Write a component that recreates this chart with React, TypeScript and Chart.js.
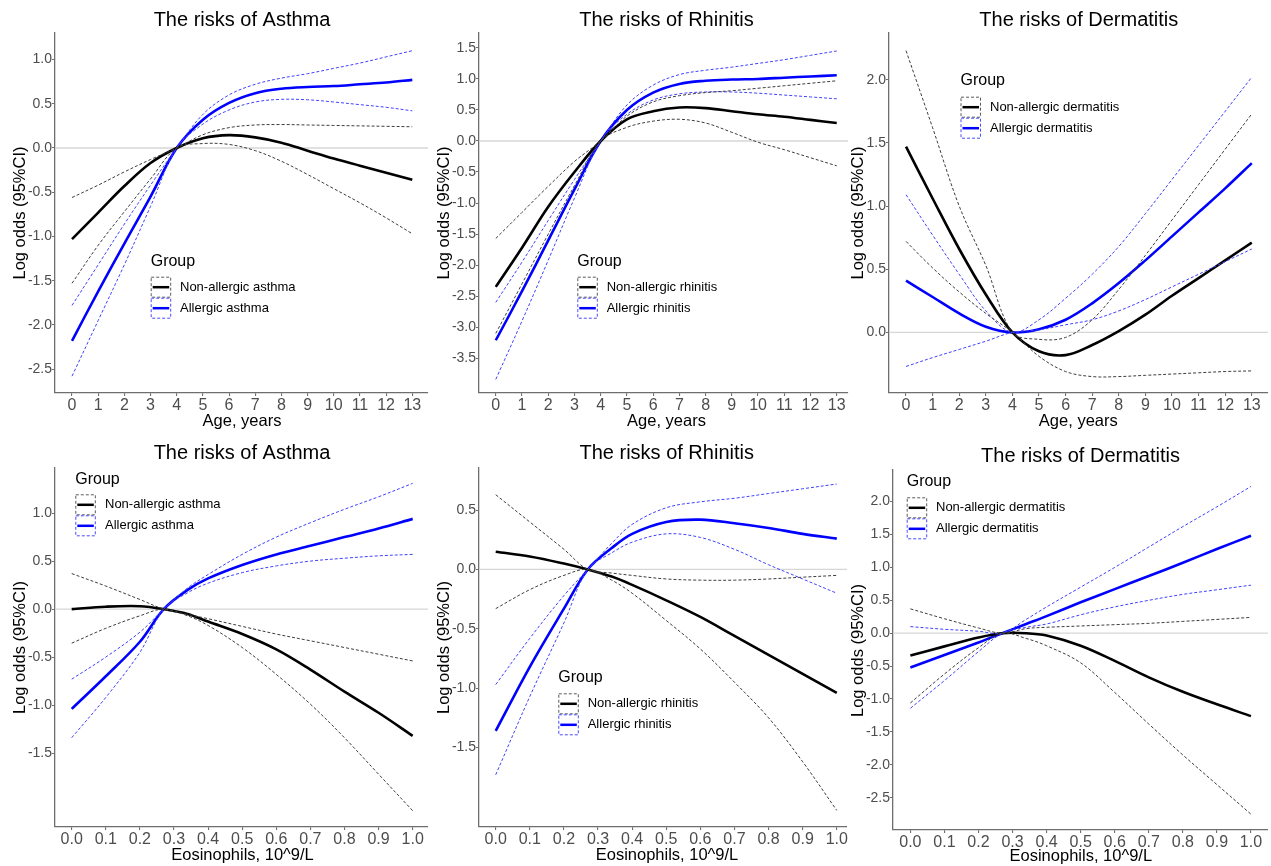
import React, { useEffect, useRef } from "react";
import { Chart, registerables } from "chart.js";

Chart.register(...registerables);

// ---------- data ----------
const ageX = [0, 1, 2, 3, 4, 5, 6, 7, 8, 9, 10, 11, 12, 13];
const eosX = [0, 0.1, 0.2, 0.27, 0.34, 0.4, 0.5, 0.6, 0.7, 0.8, 0.9, 1.0];

const ageTicks = [0, 1, 2, 3, 4, 5, 6, 7, 8, 9, 10, 11, 12, 13];
const eosTicks = [0, 0.1, 0.2, 0.3, 0.4, 0.5, 0.6, 0.7, 0.8, 0.9, 1.0];

const yTicksAsthmaAge = [-2.5, -2, -1.5, -1, -0.5, 0, 0.5, 1];
const yTicksRhinitisAge = [-3.5, -3, -2.5, -2, -1.5, -1, -0.5, 0, 0.5, 1, 1.5];
const yTicksDermAge = [0, 0.5, 1, 1.5, 2];
const yTicksAsthmaEos = [-1.5, -1, -0.5, 0, 0.5, 1];
const yTicksRhinitisEos = [-1.5, -1, -0.5, 0, 0.5];
const yTicksDermEos = [-2.5, -2, -1.5, -1, -0.5, 0, 0.5, 1, 1.5, 2];

// Asthma vs age
const asthmaAgeNonEst = [-1.03, -0.73, -0.43, -0.17, 0, 0.11, 0.145, 0.12, 0.06, -0.03, -0.12, -0.2, -0.28, -0.36];
const asthmaAgeNonLo = [-1.53, -1.1, -0.72, -0.35, 0, 0.05, 0.04, -0.03, -0.15, -0.3, -0.46, -0.62, -0.79, -0.97];
const asthmaAgeNonHi = [-0.56, -0.42, -0.27, -0.13, 0, 0.15, 0.23, 0.26, 0.265, 0.26, 0.255, 0.25, 0.245, 0.24];
const asthmaAgeAllEst = [-2.18, -1.62, -1.08, -0.55, 0, 0.32, 0.51, 0.62, 0.67, 0.69, 0.7, 0.72, 0.74, 0.77];
const asthmaAgeAllLo = [-2.58, -1.95, -1.32, -0.66, 0, 0.27, 0.43, 0.52, 0.55, 0.545, 0.52, 0.49, 0.46, 0.42];
const asthmaAgeAllHi = [-1.78, -1.32, -0.86, -0.42, 0, 0.38, 0.6, 0.72, 0.79, 0.84, 0.9, 0.96, 1.03, 1.1];

// Rhinitis vs age
const rhinAgeNonEst = [-2.35, -1.72, -1.06, -0.5, 0, 0.35, 0.48, 0.54, 0.53, 0.48, 0.43, 0.39, 0.34, 0.29];
const rhinAgeNonLo = [-3.1, -2.3, -1.5, -0.72, 0, 0.22, 0.32, 0.35, 0.29, 0.14, -0.02, -0.14, -0.27, -0.4];
const rhinAgeNonHi = [-1.57, -1.15, -0.73, -0.33, 0, 0.4, 0.63, 0.73, 0.78, 0.81, 0.85, 0.89, 0.93, 0.97];
const rhinAgeAllEst = [-3.21, -2.42, -1.6, -0.78, 0, 0.5, 0.78, 0.92, 0.97, 0.99, 1.0, 1.02, 1.04, 1.06];
const rhinAgeAllLo = [-3.84, -2.9, -1.92, -0.92, 0, 0.43, 0.66, 0.76, 0.79, 0.79, 0.77, 0.74, 0.71, 0.68];
const rhinAgeAllHi = [-2.6, -1.95, -1.28, -0.62, 0, 0.58, 0.9, 1.07, 1.14, 1.19, 1.25, 1.31, 1.38, 1.45];

// Dermatitis vs age
const dermAgeNonEst = [1.47, 1.06, 0.66, 0.3, 0, -0.15, -0.18, -0.1, 0.01, 0.14, 0.29, 0.43, 0.57, 0.71];
const dermAgeNonLo = [0.72, 0.51, 0.32, 0.15, 0, -0.19, -0.31, -0.35, -0.35, -0.34, -0.33, -0.32, -0.31, -0.305];
const dermAgeNonHi = [2.23, 1.62, 1.0, 0.53, 0, -0.055, -0.04, 0.1, 0.34, 0.61, 0.89, 1.17, 1.45, 1.73];
const dermAgeAllEst = [0.41, 0.28, 0.15, 0.045, 0, 0.025, 0.1, 0.23, 0.39, 0.57, 0.76, 0.95, 1.14, 1.34];
const dermAgeAllLo = [-0.27, -0.2, -0.135, -0.07, 0, 0.02, 0.06, 0.1, 0.17, 0.26, 0.36, 0.46, 0.56, 0.66];
const dermAgeAllHi = [1.09, 0.77, 0.46, 0.17, 0, 0.1, 0.27, 0.46, 0.68, 0.94, 1.21, 1.48, 1.75, 2.02];

// Asthma vs eosinophils
const asthmaEosNonEst = [0, 0.025, 0.03, 0, -0.05, -0.13, -0.26, -0.42, -0.63, -0.86, -1.08, -1.32];
const asthmaEosNonLo = [-0.355, -0.2, -0.07, 0, -0.07, -0.17, -0.4, -0.68, -0.99, -1.34, -1.72, -2.1];
const asthmaEosNonHi = [0.37, 0.24, 0.1, 0, -0.055, -0.1, -0.18, -0.26, -0.33, -0.4, -0.47, -0.54];
const asthmaEosAllEst = [-1.04, -0.7, -0.34, 0, 0.2, 0.32, 0.46, 0.57, 0.66, 0.75, 0.84, 0.94];
const asthmaEosAllLo = [-1.34, -0.92, -0.45, 0, 0.17, 0.27, 0.38, 0.45, 0.5, 0.53, 0.555, 0.57];
const asthmaEosAllHi = [-0.73, -0.5, -0.24, 0, 0.22, 0.36, 0.57, 0.75, 0.9, 1.04, 1.17, 1.31];

// Rhinitis vs eosinophils
const rhinEosNonEst = [0.15, 0.11, 0.05, 0, -0.06, -0.13, -0.26, -0.4, -0.56, -0.72, -0.88, -1.04];
const rhinEosNonLo = [-0.33, -0.17, -0.05, 0, -0.09, -0.2, -0.43, -0.67, -0.95, -1.25, -1.62, -2.03];
const rhinEosNonHi = [0.63, 0.4, 0.17, 0, -0.03, -0.05, -0.08, -0.09, -0.09, -0.08, -0.065, -0.05];
const rhinEosAllEst = [-1.36, -0.82, -0.33, 0, 0.18, 0.3, 0.4, 0.42, 0.39, 0.35, 0.3, 0.26];
const rhinEosAllLo = [-1.73, -1.07, -0.45, 0, 0.14, 0.23, 0.3, 0.27, 0.17, 0.04, -0.08, -0.2];
const rhinEosAllHi = [-0.97, -0.58, -0.22, 0, 0.22, 0.38, 0.52, 0.57, 0.6, 0.64, 0.68, 0.72];

// Dermatitis vs eosinophils
const dermEosNonEst = [-0.34, -0.2, -0.065, 0, 0.0, -0.035, -0.19, -0.42, -0.67, -0.89, -1.08, -1.26];
const dermEosNonLo = [-1.06, -0.62, -0.22, 0, -0.08, -0.19, -0.45, -0.9, -1.38, -1.85, -2.3, -2.75];
const dermEosNonHi = [0.37, 0.22, 0.08, 0, 0.07, 0.09, 0.11, 0.13, 0.15, 0.18, 0.21, 0.24];
const dermEosAllEst = [-0.52, -0.33, -0.14, 0, 0.14, 0.26, 0.47, 0.67, 0.87, 1.07, 1.28, 1.48];
const dermEosAllLo = [-1.14, -0.72, -0.28, 0, 0.09, 0.14, 0.28, 0.4, 0.5, 0.59, 0.66, 0.73];
const dermEosAllHi = [0.1, 0.06, 0.03, 0, 0.21, 0.4, 0.7, 1.0, 1.31, 1.62, 1.92, 2.23];

const Y_TITLE = "Log odds (95%CI)";
const AGE_TITLE = "Age, years";
const EOS_TITLE = "Eosinophils, 10^9/L";
const LEGEND_TITLE = "Group";

// ---------- styles / layout ----------
const FONT = "'Liberation Sans', Arial, Helvetica, sans-serif";
const NON_SOLID = "#000000";
const NON_DASH = "#3c3c3c";
const ALL_SOLID = "#0000ff";
const ALL_DASH = "#4040ff";
const AXIS_COLOR = "#6e6e6e";
const TICK_LABEL = "#4d4d4d";
const TENSION = 0.35;

type Group = { label: string; est: number[]; lo: number[]; hi: number[]; solid: string; dash: string; keyBorder: string };
type Panel = {
  title: string;
  xTitle: string;
  xs: number[];
  xTicks: number[];
  xDigits: number;
  yTicks: number[];
  xMin: number; xMax: number; yMin: number; yMax: number;
  groups: Group[];
  box: { left: number; top: number; width: number; height: number };
  plot: { left: number; top: number; right: number; bottom: number };
  titlePos: [number, number];
  xTitlePos: [number, number];
  yTitlePos: [number, number];
  legend: { x: number; groupY: number; keyTop: number; labelX: number };
};

const mkGroups = (names: [string, string], n: number[][]): Group[] => [
  { label: names[0], est: n[0], lo: n[1], hi: n[2], solid: NON_SOLID, dash: NON_DASH, keyBorder: "#5a5a5a" },
  { label: names[1], est: n[3], lo: n[4], hi: n[5], solid: ALL_SOLID, dash: ALL_DASH, keyBorder: "#4a4aff" },
];

const panels: Panel[] = [
  {
    title: "The risks of Asthma", xTitle: AGE_TITLE, xs: ageX, xTicks: ageTicks, xDigits: 0, yTicks: yTicksAsthmaAge,
    xMin: -0.65, xMax: 13.6, yMin: -2.77, yMax: 1.3,
    groups: mkGroups(["Non-allergic asthma", "Allergic asthma"], [asthmaAgeNonEst, asthmaAgeNonLo, asthmaAgeNonHi, asthmaAgeAllEst, asthmaAgeAllLo, asthmaAgeAllHi]),
    box: { left: 0, top: 0, width: 448, height: 430 }, plot: { left: 55, top: 33, right: 428, bottom: 393 },
    titlePos: [242, 20], xTitlePos: [242, 421.5], yTitlePos: [20, 213],
    legend: { x: 150.7, groupY: 262, keyTop: 276.7, labelX: 180 },
  },
  {
    title: "The risks of Rhinitis", xTitle: AGE_TITLE, xs: ageX, xTicks: ageTicks, xDigits: 0, yTicks: yTicksRhinitisAge,
    xMin: -0.64, xMax: 13.43, yMin: -4.06, yMax: 1.74,
    groups: mkGroups(["Non-allergic rhinitis", "Allergic rhinitis"], [rhinAgeNonEst, rhinAgeNonLo, rhinAgeNonHi, rhinAgeAllEst, rhinAgeAllLo, rhinAgeAllHi]),
    box: { left: 430, top: 0, width: 438, height: 430 }, plot: { left: 479, top: 33, right: 848, bottom: 393 },
    titlePos: [666.5, 20], xTitlePos: [666.5, 421.5], yTitlePos: [444, 213],
    legend: { x: 577.3, groupY: 262, keyTop: 276.7, labelX: 606.7 },
  },
  {
    title: "The risks of Dermatitis", xTitle: AGE_TITLE, xs: ageX, xTicks: ageTicks, xDigits: 0, yTicks: yTicksDermAge,
    xMin: -0.64, xMax: 13.61, yMin: -0.48, yMax: 2.37,
    groups: mkGroups(["Non-allergic dermatitis", "Allergic dermatitis"], [dermAgeNonEst, dermAgeNonLo, dermAgeNonHi, dermAgeAllEst, dermAgeAllLo, dermAgeAllHi]),
    box: { left: 850, top: 0, width: 421, height: 430 }, plot: { left: 889, top: 33, right: 1268, bottom: 393 },
    titlePos: [1078.8, 20], xTitlePos: [1078.3, 421.5], yTitlePos: [858.3, 213],
    legend: { x: 960.5, groupY: 81, keyTop: 96.7, labelX: 990 },
  },
  {
    title: "The risks of Asthma", xTitle: EOS_TITLE, xs: eosX, xTicks: eosTicks, xDigits: 1, yTicks: yTicksAsthmaEos,
    xMin: -0.049, xMax: 1.045, yMin: -2.27, yMax: 1.47,
    groups: mkGroups(["Non-allergic asthma", "Allergic asthma"], [asthmaEosNonEst, asthmaEosNonLo, asthmaEosNonHi, asthmaEosAllEst, asthmaEosAllLo, asthmaEosAllHi]),
    box: { left: 0, top: 430, width: 448, height: 436 }, plot: { left: 55, top: 468, right: 428, bottom: 827 },
    titlePos: [242, 453.3], xTitlePos: [242.5, 855], yTitlePos: [20, 647.5],
    legend: { x: 75.3, groupY: 479.5, keyTop: 494.3, labelX: 105 },
  },
  {
    title: "The risks of Rhinitis", xTitle: EOS_TITLE, xs: eosX, xTicks: eosTicks, xDigits: 1, yTicks: yTicksRhinitisEos,
    xMin: -0.049, xMax: 1.03, yMin: -2.17, yMax: 0.855,
    groups: mkGroups(["Non-allergic rhinitis", "Allergic rhinitis"], [rhinEosNonEst, rhinEosNonLo, rhinEosNonHi, rhinEosAllEst, rhinEosAllLo, rhinEosAllHi]),
    box: { left: 430, top: 430, width: 438, height: 436 }, plot: { left: 479, top: 468, right: 847, bottom: 827 },
    titlePos: [666.7, 453.3], xTitlePos: [667, 855], yTitlePos: [444, 647.5],
    legend: { x: 558.3, groupY: 677.5, keyTop: 693.3, labelX: 587.7 },
  },
  {
    title: "The risks of Dermatitis", xTitle: EOS_TITLE, xs: eosX, xTicks: eosTicks, xDigits: 1, yTicks: yTicksDermEos,
    xMin: -0.051, xMax: 1.05, yMin: -2.99, yMax: 2.48,
    groups: mkGroups(["Non-allergic dermatitis", "Allergic dermatitis"], [dermEosNonEst, dermEosNonLo, dermEosNonHi, dermEosAllEst, dermEosAllLo, dermEosAllHi]),
    box: { left: 850, top: 430, width: 421, height: 436 }, plot: { left: 893, top: 470, right: 1268, bottom: 830 },
    titlePos: [1080.5, 456], xTitlePos: [1080.8, 856.5], yTitlePos: [858.3, 650.5],
    legend: { x: 906.7, groupY: 482, keyTop: 497.3, labelX: 936 },
  },
];

const KEY_W = 20.5;
const KEY_H = 21;

function decorPlugin(p: Panel) {
  return {
    id: "decor",
    beforeDatasetsDraw(chart: any) {
      const { ctx, chartArea } = chart;
      const y0 = chart.scales.y.getPixelForValue(0);
      ctx.save();
      ctx.strokeStyle = "#d6d6d6";
      ctx.lineWidth = 1.3;
      ctx.beginPath();
      ctx.moveTo(chartArea.left, y0);
      ctx.lineTo(chartArea.right, y0);
      ctx.stroke();
      ctx.restore();
    },
    afterDraw(chart: any) {
      const ctx = chart.ctx as CanvasRenderingContext2D;
      const ox = p.box.left;
      const oy = p.box.top;
      ctx.save();
      ctx.fillStyle = "#000";
      ctx.textAlign = "center";
      ctx.textBaseline = "middle";
      ctx.font = `20px ${FONT}`;
      ctx.fillText(p.title, p.titlePos[0] - ox, p.titlePos[1] - oy);
      ctx.font = `16.5px ${FONT}`;
      ctx.fillText(p.xTitle, p.xTitlePos[0] - ox, p.xTitlePos[1] - oy);
      ctx.save();
      ctx.translate(p.yTitlePos[0] - ox, p.yTitlePos[1] - oy);
      ctx.rotate(-Math.PI / 2);
      ctx.fillText(Y_TITLE, 0, 0);
      ctx.restore();

      // legend
      const L = p.legend;
      ctx.textAlign = "left";
      ctx.font = `16px ${FONT}`;
      ctx.fillText(LEGEND_TITLE, L.x - ox, L.groupY - oy);
      ctx.font = `13px ${FONT}`;
      p.groups.forEach((g, i) => {
        const kx = L.x - ox;
        const ky = L.keyTop - oy + i * KEY_H;
        ctx.save();
        ctx.setLineDash([3, 2]);
        ctx.lineWidth = 1;
        ctx.strokeStyle = g.keyBorder;
        ctx.strokeRect(kx + 0.5, ky + 0.5, KEY_W - 1, KEY_H - 1);
        ctx.setLineDash([]);
        ctx.strokeStyle = g.solid;
        ctx.lineWidth = 2.5;
        ctx.beginPath();
        ctx.moveTo(kx + 2, ky + KEY_H / 2);
        ctx.lineTo(kx + KEY_W - 2, ky + KEY_H / 2);
        ctx.stroke();
        ctx.restore();
        ctx.fillStyle = "#000";
        ctx.fillText(g.label, L.labelX - ox, ky + KEY_H / 2);
      });
      ctx.restore();
    },
  };
}

function PanelChart({ p }: { p: Panel }) {
  const ref = useRef<HTMLCanvasElement | null>(null);
  useEffect(() => {
    if (!ref.current) return;
    const pts = (arr: number[]) => p.xs.map((x, i) => ({ x, y: arr[i] }));
    const datasets: any[] = [];
    p.groups.forEach((g) => {
      [g.lo, g.hi].forEach((arr) =>
        datasets.push({
          data: pts(arr),
          borderColor: g.dash,
          borderWidth: 1,
          borderDash: [3, 2],
          pointRadius: 0,
          fill: false,
          tension: TENSION,
        })
      );
    });
    p.groups.forEach((g) =>
      datasets.push({
        data: pts(g.est),
        borderColor: g.solid,
        borderWidth: 2.6,
        pointRadius: 0,
        fill: false,
        tension: TENSION,
      })
    );
    const right = p.box.left + p.box.width - p.plot.right;
    const chart = new Chart(ref.current, {
      type: "line",
      data: { datasets },
      options: {
        responsive: false,
        animation: false,
        devicePixelRatio: 1,
        events: [],
        layout: { padding: { left: 0, top: p.plot.top - p.box.top, right, bottom: 0 } },
        plugins: { legend: { display: false }, tooltip: { enabled: false }, title: { display: false } },
        scales: {
          x: {
            type: "linear",
            min: p.xMin,
            max: p.xMax,
            afterFit: (s: any) => {
              s.height = p.box.top + p.box.height - p.plot.bottom;
            },
            afterBuildTicks: (s: any) => {
              s.ticks = p.xTicks.map((v) => ({ value: v }));
            },
            ticks: {
              autoSkip: false,
              maxRotation: 0,
              padding: -0.5,
              color: TICK_LABEL,
              font: { size: 16, family: FONT },
              callback: (v: any) => Number(v).toFixed(p.xDigits),
            },
            grid: { display: true, drawOnChartArea: false, drawTicks: true, tickLength: 3, color: AXIS_COLOR, lineWidth: 1.1 },
            border: { display: true, color: AXIS_COLOR, width: 1.3 },
          },
          y: {
            type: "linear",
            min: p.yMin,
            max: p.yMax,
            afterFit: (s: any) => {
              s.width = p.plot.left - p.box.left;
            },
            afterBuildTicks: (s: any) => {
              s.ticks = p.yTicks.map((v) => ({ value: v }));
            },
            ticks: {
              autoSkip: false,
              padding: 0,
              color: TICK_LABEL,
              font: { size: 14, family: FONT },
              callback: (v: any) => Number(v).toFixed(1),
            },
            grid: { display: true, drawOnChartArea: false, drawTicks: true, tickLength: 3, color: AXIS_COLOR, lineWidth: 1.1 },
            border: { display: true, color: AXIS_COLOR, width: 1.3 },
          },
        },
      } as any,
      plugins: [decorPlugin(p) as any],
    });
    return () => chart.destroy();
  }, [p]);
  return (
    <canvas
      ref={ref}
      width={p.box.width}
      height={p.box.height}
      style={{ position: "absolute", left: p.box.left, top: p.box.top, width: p.box.width, height: p.box.height }}
    />
  );
}

export default function App() {
  return (
    <div style={{ position: "absolute", left: 0, top: 0, width: 1271, height: 866, background: "#fff", overflow: "hidden" }}>
      {panels.map((p, i) => (
        <PanelChart key={i} p={p} />
      ))}
    </div>
  );
}
